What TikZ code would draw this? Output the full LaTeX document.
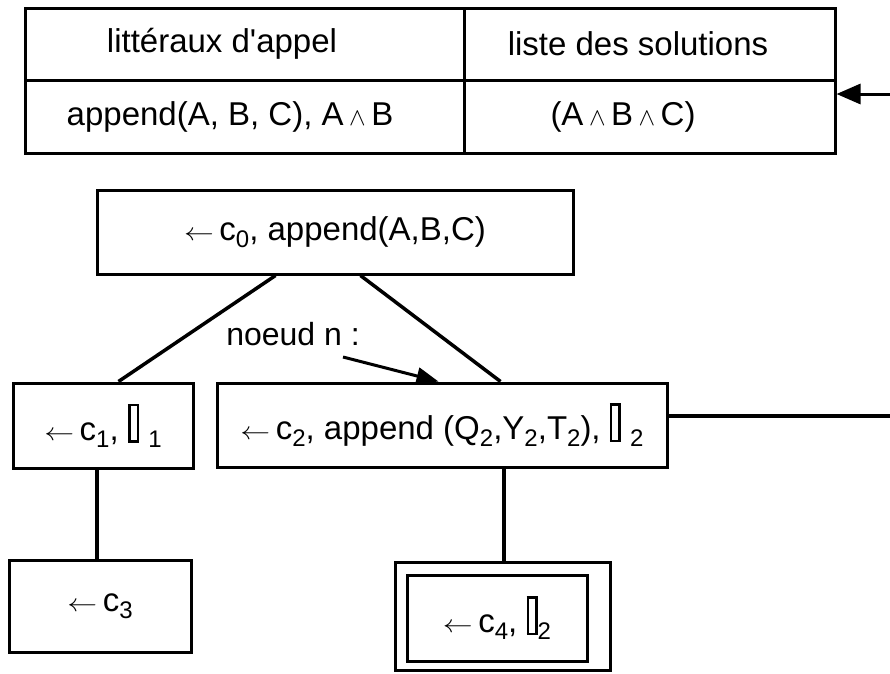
\documentclass[tikz,border=0pt]{standalone}
\usepackage{fontspec}
\setmainfont{Liberation Sans}
\usetikzlibrary{arrows.meta,calc}
\newcommand\vide{{\fboxsep=0pt\fboxrule=2.6pt\fbox{\rule{0pt}{34pt}\hspace{6pt}}}}
\newcommand\sbs[1]{\raisebox{-7pt}{\fontsize{24}{24}\selectfont #1}}
\newcommand\et{\,{\fontsize{24}{24}\selectfont$\wedge$}\,}
\newcommand\lar{\scalebox{1.2}[1]{$\leftarrow$}\,}
\begin{document}
\begin{tikzpicture}[x=1pt,y=-1pt,
  every node/.style={font=\fontsize{33}{38}\selectfont},
  cell/.style={draw, line width=3pt, inner sep=0pt},
  txt/.style={inner sep=0pt},
  link/.style={line width=3.5pt},
  point/.style={line width=3pt,-{Triangle[length=24pt,width=20pt]}}]
\useasboundingbox (0,0) rectangle (890,673);
% table
\node[cell, minimum width=439, minimum height=72] (h1) at (244.5,44) {};
\node[cell, minimum width=371, minimum height=72] (h2) at (649.5,44) {};
\node[cell, minimum width=439, minimum height=73] (l1) at (244.5,116.5) {};
\node[cell, minimum width=371, minimum height=73] (sol) at (649.5,116.5) {};
\node[txt] (t1) at (222,44) {litt\'eraux d\textquotesingle appel};
\node[txt] (t2) at (638,44) {liste des solutions};
\node[txt] (t3) at (230,117) {append(A, B, C), A\et B};
\node[txt] (t4) at (623,117) {(A\et B\et C)};
% tree
\node[cell, minimum width=476, minimum height=84] (c0) at (335,232) {\lar c\sbs{0}, append(A,B,C)};
\node[cell, minimum width=180, minimum height=85] (c1) at (103,425.5) {\lar c\sbs{1}, \vide\ \sbs{1}};
\node[cell, minimum width=450, minimum height=84] (c2) at (442,425) {\lar c\sbs{2}, append (Q\sbs{2},Y\sbs{2},T\sbs{2}), \vide\ \sbs{2}};
\node[cell, minimum width=182, minimum height=92] (c3) at (100,606) {\lar c\sbs{3}};
\node[cell, minimum width=215, minimum height=108] (c4o) at (502.5,616) {};
\node[cell, minimum width=180, minimum height=86] (c4) at (497,618) {\lar c\sbs{4}, \vide\sbs{2}};
\node[font=\fontsize{32}{36}\selectfont] (nn) at (293,334) {noeud n :};
\coordinate (ain) at (890,94);
\coordinate (bout) at (890,416);
\coordinate (nstart) at (343,357);
% connectors
\draw[link] ([xshift=180pt]c0.south west) -- ([xshift=107pt]c1.north west);
\draw[link] ([xshift=265pt]c0.south west) -- ([xshift=285pt]c2.north west);
\draw[link] (c1.south -| 97,0) -- (c3.north -| 97,0);
\draw[link] (c2.south -| 504,0) -- (c4o.north -| 504,0);
\draw[link] (c2.east |- bout) -- (bout);
\draw[point] (ain) -- (ain -| sol.east);
\draw[line width=3pt,-{Triangle[length=22pt,width=17pt]}] (nstart) -- ([xshift=223pt]c2.north west);
\end{tikzpicture}
\end{document}
